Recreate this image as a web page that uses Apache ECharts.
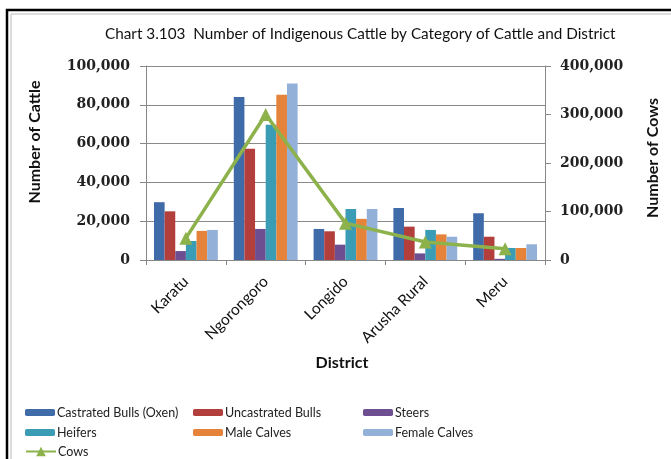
<!DOCTYPE html>
<html><head><meta charset="utf-8">
<script src="https://cdn.jsdelivr.net/npm/echarts@6/dist/echarts.min.js"></script>
<style>html,body{margin:0;padding:0;background:#fff}#c{width:671px;height:459px}</style>
</head><body><div id="c"></div>
<script>
const districts = ['Karatu','Ngorongoro','Longido','Arusha Rural','Meru'];
const oxen = [29800, 84000, 16000, 26800, 24100];
const uncastrated = [25100, 57300, 14800, 17200, 12000];
const steers = [4600, 16000, 7900, 3400, 600];
const heifers = [9800, 69700, 26300, 15500, 6200];
const maleCalves = [15000, 85200, 21200, 13200, 6200];
const femaleCalves = [15500, 91000, 26300, 12000, 8100];
const cows = [45000, 300000, 76000, 37000, 23000];
const leftTicks = [0, 20000, 40000, 60000, 80000, 100000];
const rightTicks = [0, 100000, 200000, 300000, 400000];

const fmt = v => v.toLocaleString('en-US');
const chart = echarts.init(document.getElementById('c'));
const names = ['Castrated Bulls (Oxen)','Uncastrated Bulls','Steers','Heifers','Male Calves','Female Calves','Cows'];
const colors = ['#3F6CA9','#B23F3C','#6C4E91','#3A9DB5','#E6833A','#92B0D8','#8DB24C'];
const barData = [oxen, uncastrated, steers, heifers, maleCalves, femaleCalves];
const font = 'Lato, "Noto Sans", sans-serif';
const tickFont = '"DejaVu Serif", serif';

const legendPos = [[25,406],[193,406],[363,406],[25,426],[193,426],[363,426],[25,445]];
const legends = names.map((n,i)=>({
  data:[n], left: legendPos[i][0], top: legendPos[i][1],
  itemWidth: 30, itemHeight: i===6?12:7, itemGap:0,
  padding:0,
  textStyle:{fontFamily:font, fontSize:12.5, color:'#222', padding:[0,0,0,-3]},
  selectedMode:false
}));

const series = barData.map((d,i)=>({
  name: names[i], type:'bar', data:d, yAxisIndex:0,
  itemStyle:{color:colors[i]},
  barGap:'0%', barCategoryGap:'20%'
}));
series.push({
  name:'Cows', type:'line', yAxisIndex:1, data:cows,
  symbol:'triangle', symbolSize:13,
  lineStyle:{color:colors[6], width:3.5},
  itemStyle:{color:colors[6]},
  z:5
});

const nameStyle = {fontFamily:font, fontSize:16, fontWeight:'bold', fill:'#111', align:'center', verticalAlign:'middle'};

chart.setOption({
  animation:false,
  color: colors,
  title:{text:'Chart 3.103  Number of Indigenous Cattle by Category of Cattle and District',
    left:100, top:22, textStyle:{fontFamily:font, fontSize:15.3, fontWeight:'normal', color:'#111'}},
  legend: legends,
  grid:{left:146, right:126, top:66, bottom:199},
  xAxis:{type:'category', data:districts, boundaryGap:true,
    axisLine:{lineStyle:{color:'#888'}},
    axisTick:{show:true, alignWithLabel:false, length:5, lineStyle:{color:'#888'}},
    axisLabel:{rotate:45, fontFamily:font, fontSize:15.5, color:'#111', margin:19, interval:0}
  },
  yAxis:[
    {type:'value', min:0, max:100000, interval:20000,
      axisLine:{show:true, lineStyle:{color:'#888'}},
      axisTick:{show:true, length:6, lineStyle:{color:'#888'}},
      splitLine:{lineStyle:{color:'#8a8a8a', width:1}},
      axisLabel:{fontFamily:tickFont, fontSize:14, fontWeight:'bold', color:'#222', margin:16, formatter:v=>fmt(v)}
    },
    {type:'value', min:0, max:400000, interval:100000, position:'right',
      axisLine:{show:true, lineStyle:{color:'#888'}},
      axisTick:{show:true, length:6, lineStyle:{color:'#888'}},
      splitLine:{show:false},
      axisLabel:{fontFamily:tickFont, fontSize:14, fontWeight:'bold', color:'#222', margin:15, formatter:v=>fmt(v)}
    }
  ],
  graphic:[
    {type:'rect', shape:{x:7, y:10, width:700, height:470}, style:{fill:'none', stroke:'#000', lineWidth:2.5}, silent:true},
    {type:'rect', shape:{x:11, y:14, width:700, height:470}, style:{fill:'none', stroke:'#bbb', lineWidth:1}, silent:true},
    {type:'text', x:35, y:142, rotation:Math.PI/2, style:Object.assign({text:'Number of Cattle'}, nameStyle), silent:true},
    {type:'text', x:653, y:158, rotation:Math.PI/2, style:Object.assign({text:'Number of Cows'}, nameStyle), silent:true},
    {type:'text', x:342, y:363, style:Object.assign({text:'District'}, nameStyle), silent:true}
  ],
  series
});
</script></body></html>
